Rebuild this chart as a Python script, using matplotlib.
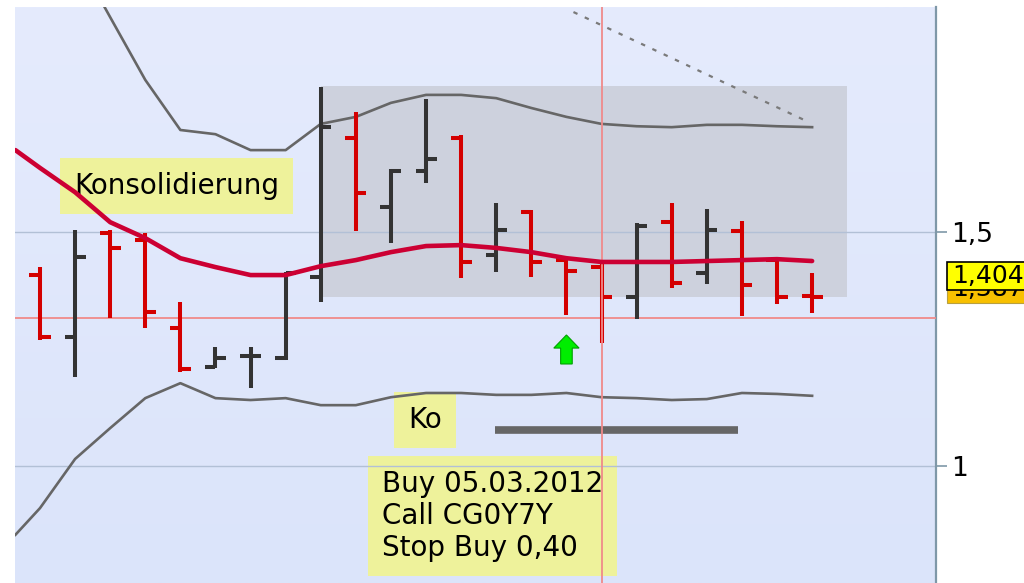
import numpy as np
import matplotlib
matplotlib.use("Agg")
import matplotlib.pyplot as plt
from matplotlib.colors import LinearSegmentedColormap
from matplotlib.patches import Rectangle, FancyArrow
from matplotlib.transforms import blended_transform_factory

# OHLC bars, one per period
opens  = [1.408, 1.276, 1.498, 1.483, 1.295, 1.212, 1.235, 1.231, 1.404, 1.701, 1.553, 1.630,
          1.701, 1.451, 1.543, 1.440, 1.425, 1.361, 1.521, 1.412, 1.502, 1.440, 1.363]
highs  = [1.425, 1.504, 1.504, 1.498, 1.350, 1.254, 1.254, 1.415, 1.810, 1.756, 1.635, 1.784,
          1.707, 1.562, 1.547, 1.445, 1.432, 1.519, 1.562, 1.549, 1.524, 1.442, 1.412]
lows   = [1.269, 1.190, 1.316, 1.295, 1.201, 1.209, 1.167, 1.226, 1.350, 1.502, 1.476, 1.605,
          1.402, 1.415, 1.404, 1.323, 1.263, 1.314, 1.380, 1.389, 1.321, 1.346, 1.327]
closes = [1.276, 1.447, 1.466, 1.329, 1.207, 1.231, 1.235, 1.412, 1.724, 1.583, 1.630, 1.656,
          1.436, 1.504, 1.436, 1.417, 1.361, 1.513, 1.391, 1.504, 1.387, 1.361, 1.361]

# indicator lines (first value is the lead-in at the left edge)
line_x = [-0.7] + list(range(23))
ma = [1.675, 1.637, 1.585, 1.521, 1.487, 1.444, 1.425, 1.408, 1.408, 1.427, 1.440, 1.457, 1.470,
      1.472, 1.466, 1.457, 1.444, 1.436, 1.436, 1.436, 1.438, 1.440, 1.442, 1.438]
upper = [2.327, 2.229, 2.094, 1.959, 1.825, 1.718, 1.709, 1.675, 1.675, 1.731, 1.746, 1.776, 1.793,
         1.793, 1.786, 1.765, 1.746, 1.731, 1.726, 1.724, 1.729, 1.729, 1.726, 1.724]
lower = [0.853, 0.910, 1.015, 1.081, 1.145, 1.177, 1.145, 1.141, 1.145, 1.130, 1.130, 1.147, 1.156,
         1.156, 1.152, 1.152, 1.156, 1.147, 1.145, 1.141, 1.143, 1.156, 1.154, 1.150]

# drawing objects
zone_x = [8, 23]          # consolidation zone
zone_y = [1.361, 1.812]
trend_x = [15.2, 21.9]    # dashed trend line
trend_y = [1.97, 1.735]
ko_x = [12.96, 19.89]     # thick grey bar
ko_y = 1.077
cross_x, cross_y = 16, 1.316
signal_x, signal_lo, signal_hi = 15, 1.218, 1.280
ticks = [1.0, 1.5]
tick_labels = ["1", "1,5"]
last_price, last_label = 1.406, "1,404"
prev_price, prev_label = 1.378, "1,387"

fig = plt.figure(figsize=(10.24, 5.83), dpi=100)
ax = fig.add_axes([15 / 1024, 0, 921 / 1024, 576 / 583])

bg = LinearSegmentedColormap.from_list("bg", ["#e5ebfd", "#dbe4fa"])
ax.imshow(np.linspace(0, 1, 256).reshape(-1, 1), cmap=bg, extent=[0, 1, 0, 1],
          transform=ax.transAxes, aspect="auto", zorder=0, origin="upper")

for t in ticks:
    ax.axhline(t, color="#b2c0d6", lw=1.0, zorder=2.5)

ax.add_patch(Rectangle((zone_x[0], zone_y[0]), zone_x[1] - zone_x[0], zone_y[1] - zone_y[0],
                       fc="#cdd1dd", ec="none", zorder=1))

# annotation boxes
box = dict(boxstyle="square,pad=0.5", fc="#eef29b", ec="none")
ax.text(3.9, 1.598, "Konsolidierung", ha="center", va="center", fontsize=20, bbox=box, zorder=2)
ax.text(10.97, 1.098, "Ko", ha="center", va="center", fontsize=20, bbox=box, zorder=2)
ax.text(9.74, 0.893, "Buy 05.03.2012\nCall CG0Y7Y\nStop Buy 0,40", ha="left", va="center",
        fontsize=20, linespacing=1.2, bbox=dict(boxstyle="square,pad=0.5", fc="#eef29b", ec="none"),
        zorder=2)

ax.axhline(cross_y, color="#f08a8a", lw=1.3, zorder=3)
ax.axvline(cross_x, color="#f08a8a", lw=1.3, zorder=6)

ax.plot(line_x, upper, color="#666666", lw=1.9, zorder=4)
ax.plot(line_x, lower, color="#666666", lw=1.9, zorder=4)
ax.plot(trend_x, trend_y, color="#7a7a7a", lw=1.6, ls=(0, (2.0, 3.6)), zorder=4)
ax.plot(ko_x, [ko_y, ko_y], color="#666666", lw=5.5, solid_capstyle="butt", zorder=4)

tw = 0.3
for i in range(len(opens)):
    c = "#d40000" if closes[i] < opens[i] else "#333333"
    ax.plot([i, i], [lows[i], highs[i]], color=c, lw=2.9, solid_capstyle="butt", zorder=5)
    ax.plot([i - tw, i], [opens[i], opens[i]], color=c, lw=2.9, solid_capstyle="butt", zorder=5)
    ax.plot([i, i + tw], [closes[i], closes[i]], color=c, lw=2.9, solid_capstyle="butt", zorder=5)

ax.plot(line_x, ma, color="#cc0033", lw=3.3, solid_capstyle="round", zorder=7)

ax.add_patch(FancyArrow(signal_x, signal_lo, 0, signal_hi - signal_lo, width=0.33, head_width=0.72,
                        head_length=0.028, length_includes_head=True, fc="#00ee00", ec="#00a000",
                        lw=0.8, zorder=7))

ax.set_xlim(-0.712, 25.53)
ax.set_ylim(0.75, 1.9808)
ax.set_xticks([])
ax.yaxis.tick_right()
ax.set_yticks(ticks)
ax.set_yticklabels(tick_labels)
ax.tick_params(axis="y", length=8, width=1.2, color="#7f98a8", labelsize=19, pad=3)
for s in ["left", "top", "bottom"]:
    ax.spines[s].set_visible(False)
ax.spines["right"].set_color("#7f98a8")
ax.spines["right"].set_linewidth(1.6)

# price tags on the right axis (the older one sits partly hidden, as in the reference)
tr = blended_transform_factory(ax.transAxes, ax.transData)
tag_h = 0.030
ax.add_patch(Rectangle((1.012, prev_price - tag_h), 0.2, 2 * tag_h, transform=tr, clip_on=False,
                       fc="#f8c000", ec="#b8a040", lw=0.8, zorder=8))
ax.text(1.0175, prev_price, prev_label, transform=tr, ha="left", va="center", fontsize=18, zorder=8.5)
ax.add_patch(Rectangle((1.012, last_price - tag_h), 0.2, 2 * tag_h, transform=tr, clip_on=False,
                       fc="#ffff00", ec="black", lw=1.2, zorder=9))
ax.text(1.0175, last_price, last_label, transform=tr, ha="left", va="center", fontsize=18, zorder=9.5)

fig.savefig("out.png", dpi=100)
